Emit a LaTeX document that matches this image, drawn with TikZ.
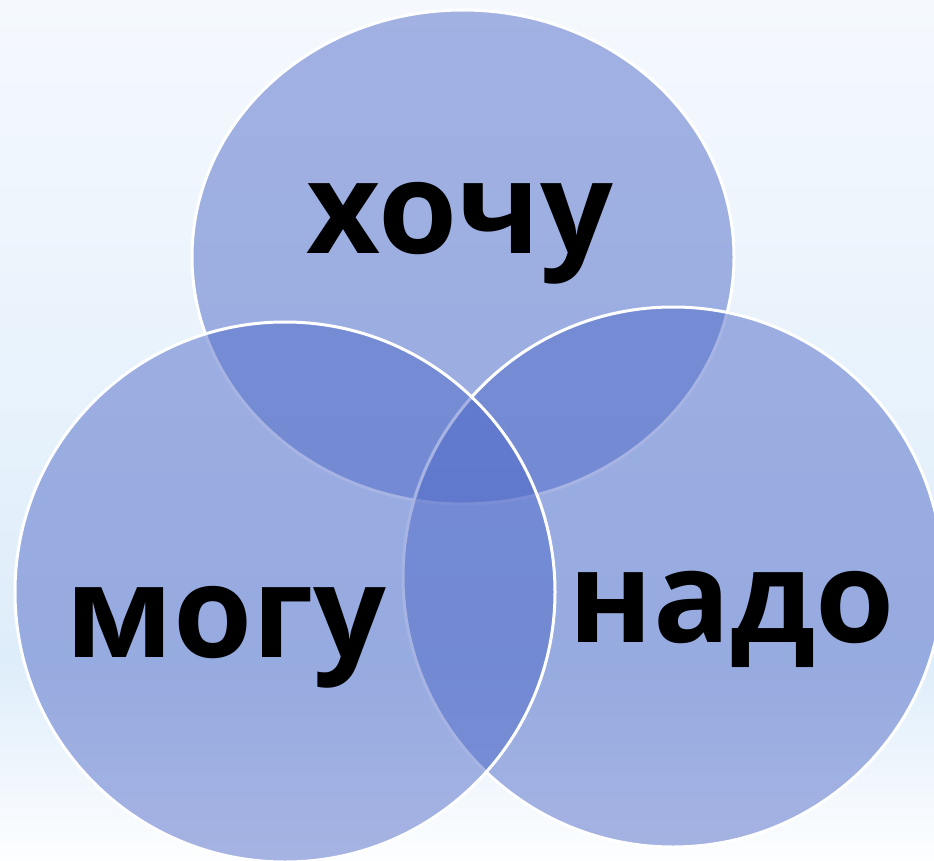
\documentclass[tikz,border=0pt]{standalone}
\usepackage{fontspec}
\newfontfamily\labfont{Open Sans}
\usetikzlibrary{shapes.geometric}
\definecolor{bgtop}{RGB}{245,249,254}
\definecolor{bgmid}{RGB}{222,237,250}
\definecolor{bgbot}{RGB}{253,254,255}
\definecolor{vennfill}{RGB}{80,106,200}
\tikzset{
  venn/.style={ellipse, inner sep=0pt, fill=vennfill, fill opacity=0.5,
    draw=white, draw opacity=1, line width=3pt},
  lab/.style={anchor=base, inner sep=0pt, text=black,
    font=\labfont\bfseries\fontsize{128}{128}\selectfont}
}
\begin{document}
\begin{tikzpicture}[x=1pt,y=-1pt]
\useasboundingbox (0,0) rectangle (934,861);
\shade[top color=bgtop, bottom color=bgmid] (0,0) rectangle (934,660);
\shade[top color=bgmid, bottom color=bgbot] (0,660) rectangle (934,861);
\node[venn, minimum width=542pt, minimum height=494pt] (want) at (463,257) {};
\node[venn, minimum width=540pt, minimum height=540pt] (need) at (673,577) {};
\node[venn, minimum width=540pt, minimum height=540pt] (can) at (285,592) {};
\node[lab] (twant) at (460,253) {хочу};
\node[lab] (tcan) at (226,657) {могу};
\node[lab] (tneed) at (732,642) {надо};
\end{tikzpicture}
\end{document}
